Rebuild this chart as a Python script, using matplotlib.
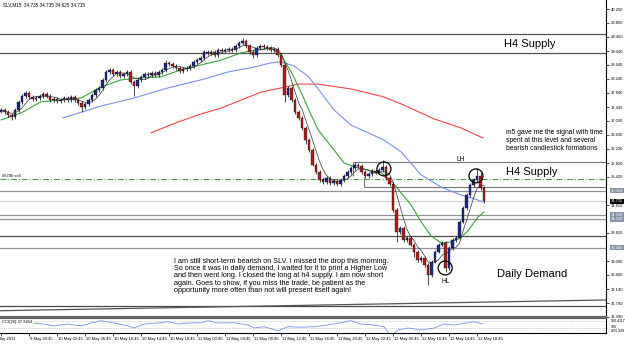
import numpy as np
import pandas as pd
import matplotlib
matplotlib.use("Agg")
import matplotlib.pyplot as plt
from matplotlib.patches import Ellipse
from matplotlib.transforms import blended_transform_factory

plt.rcParams["font.family"] = ["Liberation Sans", "DejaVu Sans"]

# SLV M15 closes, one per bar
closes = [
    37.35, 37.29, 37.20, 37.15, 37.35, 37.58, 37.75, 37.83, 37.72, 37.66,
    37.69, 37.75, 37.81, 37.75, 37.63, 37.66, 37.61, 37.63, 37.69, 37.63,
    37.72, 37.63, 37.55, 37.43, 37.52, 37.63, 37.78, 37.92, 37.98, 38.21,
    38.44, 38.50, 38.38, 38.44, 38.32, 38.38, 38.44, 38.15, 38.04, 38.21,
    38.30, 38.38, 38.35, 38.41, 38.35, 38.44, 38.50, 38.70, 38.67, 38.61,
    38.55, 38.47, 38.53, 38.55, 38.61, 38.73, 38.78, 38.84, 39.01, 38.99,
    39.01, 38.93, 39.07, 39.04, 39.07, 39.10, 39.07, 39.19, 39.27, 39.33,
    39.19, 39.01, 38.93, 39.13, 39.19, 39.16, 39.13, 39.07, 39.10, 38.93,
    38.64, 37.78, 37.98, 37.63, 37.29, 37.12, 36.83, 36.48, 36.20, 35.77,
    35.56, 35.33, 35.28, 35.39, 35.25, 35.31, 35.22, 35.33, 35.45, 35.56,
    35.68, 35.77, 35.74, 35.56, 35.45, 35.51, 35.59, 35.54, 35.62, 35.71,
    35.39, 35.22, 34.47, 33.84, 33.95, 33.61, 33.67, 33.47, 33.27, 33.03,
    33.09, 32.89, 32.60, 32.98, 33.27, 33.47, 33.52, 32.79, 33.38, 33.61,
    33.67, 34.13, 34.53, 34.90, 35.19, 35.33, 35.45, 35.10, 34.73,
]
first_open = 37.30
up_wick = [
    .05, .05, .05, .05, .05, .05, .05, .05, .05, .05,
    .05, .05, .05, .05, .05, .05, .05, .05, .05, .05,
    .05, .05, .05, .05, .05, .05, .05, .05, .05, .05,
    .05, .05, .05, .05, .05, .05, .05, .05, .05, .05,
    .05, .05, .05, .05, .05, .05, .05, .08, .05, .05,
    .05, .05, .05, .05, .05, .05, .05, .05, .05, .05,
    .05, .05, .05, .05, .05, .05, .05, .05, .05, .09,
    .05, .05, .05, .05, .05, .05, .05, .05, .05, .05,
    .05, .05, .05, .05, .05, .05, .05, .05, .05, .05,
    .05, .05, .08, .05, .05, .05, .05, .05, .05, .05,
    .05, .08, .05, .05, .05, .05, .05, .05, .05, .20,
    .05, .05, .05, .05, .05, .05, .05, .05, .05, .05,
    .05, .05, .05, .05, .05, .05, .05, .05, .05, .05,
    .05, .05, .05, .05, .05, .05, .23, .12, .05,
]
dn_wick = [
    .05, .05, .05, .10, .05, .05, .05, .05, .05, .05,
    .05, .05, .05, .05, .05, .05, .05, .05, .05, .05,
    .05, .05, .05, .14, .05, .05, .05, .05, .05, .05,
    .05, .05, .05, .05, .05, .05, .05, .05, .30, .05,
    .05, .05, .05, .05, .05, .05, .05, .05, .05, .05,
    .05, .05, .05, .05, .05, .05, .05, .05, .05, .05,
    .05, .05, .05, .05, .05, .05, .05, .05, .05, .05,
    .05, .05, .08, .05, .05, .05, .05, .05, .05, .05,
    .05, .20, .05, .05, .05, .05, .05, .12, .05, .05,
    .05, .05, .05, .05, .05, .05, .05, .05, .05, .05,
    .05, .05, .05, .05, .05, .05, .05, .05, .05, .05,
    .05, .05, .05, .30, .05, .05, .05, .05, .15, .05,
    .05, .05, .28, .05, .05, .05, .05, .10, .05, .05,
    .05, .05, .05, .05, .05, .05, .05, .05, .05,
]

# moving averages (bar index, price)
green_x = [0, 5.7, 11.4, 17.1, 22.9, 28.6, 34.3, 40, 45.7, 51.4, 57.1, 62.9, 68.6, 72.9, 77.1,
           80, 82.9, 85.7, 88.6, 90.6, 95.1, 98, 102, 108.6, 112, 114.3, 117.1, 120, 122.9,
           125.7, 128.6, 131.4, 133.4, 136.3, 138]
green_y = [37.06, 37.26, 37.58, 37.63, 37.69, 38.01, 38.21, 38.27, 38.30, 38.50, 38.64, 38.78,
           38.99, 39.07, 39.13, 38.93, 38.44, 37.86, 37.20, 36.77, 36.20, 35.82, 35.68, 35.54,
           35.25, 34.96, 34.62, 34.13, 33.72, 33.52, 33.55, 33.67, 33.87, 34.27, 34.41]
blue_x = [17.7, 28.6, 38, 47.7, 57.1, 64.9, 72.3, 77.1, 80, 83.7, 87.7, 90.6, 95.1, 100, 104.9,
          109.4, 114.3, 120, 125.7, 131.4, 134.3, 137.7]
blue_y = [37.12, 37.46, 37.69, 37.98, 38.21, 38.44, 38.58, 38.70, 38.73, 38.61, 38.32, 37.95,
          37.35, 36.91, 36.69, 36.48, 36.14, 35.48, 35.13, 34.90, 34.82, 34.70]
red_x = [42.9, 50.6, 57.1, 62.9, 68.6, 74.3, 80, 84.9, 90.6, 100, 109.4, 114.3, 123.7, 131.4, 137.7]
red_y = [36.69, 37.00, 37.23, 37.40, 37.63, 37.86, 37.98, 38.09, 38.09, 37.95, 37.72, 37.52,
         37.09, 36.83, 36.54]

# CCI(20) sub-window
cci_x = [9.4, 12.3, 15.1, 19.1, 22.9, 25.7, 28.6, 32.3, 36.3, 38, 40.9, 44.9, 47.7, 50.6, 53.4,
         57.1, 59.1, 62, 66.6, 70.6, 72.3, 75.1, 79.1, 82, 85.7, 89.4, 93.4, 97.1, 100, 102.9,
         106.6, 109.4, 111.4, 113.4, 116.3, 120, 123.7, 126.6, 129.4, 133.4, 135.1, 137.7]
cci_v = [34, 14, -43, 14, -43, 43, 109, 43, -43, -100, 14, 43, 80, 14, 43, 51, 109, 43, 51,
         -14, -100, -63, -177, -63, -77, -63, -14, 51, 109, 14, -14, -63, -330, -157, -100,
         -157, -100, 14, -14, 51, 80, 14]

# drawn levels
h4_top = [39.53, 38.99]
grey_levels = [35.02, 34.33, 34.21, 33.38]
dark_levels = [33.72, 31.71]
bid = 34.715
sell_level = 35.36
box_top, box_bottom = 35.85, 35.13
trend_x = [-0.3, 172.85]
trend_y = [31.57, 31.88]

price_ticks = [40.25, 39.85, 39.45, 39.04, 38.64, 38.24, 37.84, 37.43, 37.03, 36.63, 36.23,
               35.82, 35.42, 34.61, 33.81, 33.00, 32.60, 32.19, 31.79, 31.39]
hl_labels = [(35.02, "35.024"), (34.33, "34.330"), (34.21, "34.210"), (33.38, "33.380")]
date_labels = ["9 May 2011", "9 May 20:45", "10 May 02:45", "10 May 06:45", "10 May 10:45",
               "10 May 14:45", "10 May 18:45", "11 May 00:45", "11 May 04:45", "11 May 08:45",
               "11 May 12:45", "11 May 16:45", "11 May 20:45", "12 May 02:45", "12 May 06:45",
               "12 May 10:45", "12 May 14:45", "12 May 18:45"]

n = len(closes)
idx = np.arange(n)
opens = [first_open] + closes[:-1]
highs = [max(o, c) + u for o, c, u in zip(opens, closes, up_wick)]
lows = [min(o, c) - d for o, c, d in zip(opens, closes, dn_wick)]

fig = plt.figure(figsize=(6.25, 3.45), dpi=100)
ax = fig.add_axes([0, 28 / 345, 606 / 625, 317 / 345])
ax2 = fig.add_axes([0, 12 / 345, 606 / 625, 15 / 345])
xlim = (-0.3, -0.3 + 606 / 3.5)
ax.set_xlim(*xlim)
ax.set_ylim(31.395, 40.509)
ax2.set_xlim(*xlim)
ax2.set_ylim(-243, 186)

# levels
for p in h4_top:
    ax.axhline(p, color="#555555", lw=0.9, zorder=1)
for p in grey_levels:
    ax.axhline(p, color="#8d939c", lw=0.9, zorder=1)
for p in dark_levels:
    ax.axhline(p, color="#4a4a4a", lw=0.9, zorder=1)
ax.axhline(bid, color="#cfcfcf", lw=0.8, zorder=1)
ax.axhline(sell_level, color="#3a9a3a", lw=0.7, ls=(0, (6, 2, 1, 2)), zorder=1)
ax.hlines(box_top, 100.6, xlim[1], color="#777777", lw=0.8)
ax.hlines(box_bottom, 103.7, xlim[1], color="#777777", lw=0.8)
ax.vlines(100.6, 35.45, box_top, color="#777777", lw=0.8)
ax.vlines(103.7, box_bottom, 35.42, color="#777777", lw=0.8)
ax.plot(trend_x, trend_y, color="#555555", lw=0.9)

# moving averages
ax.plot(red_x, red_y, color="#f04646", lw=0.8, zorder=2)
ax.plot(blue_x, blue_y, color="#7593ee", lw=0.8, zorder=2)
ax.plot(green_x, green_y, color="#3aa43a", lw=0.8, zorder=2)
fast = pd.Series(closes).rolling(5, min_periods=1).mean()
ax.plot(idx, fast, color="#333333", lw=0.5, zorder=4)

# candles
ax.vlines(idx, lows, highs, color="black", lw=0.5, zorder=3)
body_lo = [min(o, c) for o, c in zip(opens, closes)]
body_h = [max(abs(c - o), 0.012) for o, c in zip(opens, closes)]
cols = ["#1b2a8c" if c >= o else "#b01e1e" for o, c in zip(opens, closes)]
ax.bar(idx, body_h, bottom=body_lo, width=0.62, color=cols, edgecolor="black",
       linewidth=0.25, zorder=3)

# circles around the swing points
for cx, cy in [(109.4, 35.65), (135.7, 35.45), (126.9, 32.80)]:
    ax.add_patch(Ellipse((cx, cy), 4.0, 0.40, fill=False, ec="black", lw=0.9, zorder=5))

# annotations
ax.text(143.7, 39.24, "H4 Supply", fontsize=8, va="center")
ax.text(144.3, 35.56, "H4 Supply", fontsize=8, va="center")
ax.text(141.7, 32.63, "Daily Demand", fontsize=8, va="center")
ax.text(144.3, 36.80, "m5 gave me the signal with time\nspent at this level and several\n"
        "bearish candlestick formations", fontsize=4.9, va="top", linespacing=1.2)
ax.text(130.0, 35.91, "LH", fontsize=4.8, va="center")
ax.text(125.7, 32.40, "HL", fontsize=4.8, va="center")
ax.text(49.4, 33.09, "I am still short-term bearish on SLV. I missed the drop this morning.\n"
        "So once it was in daily demand, I waited for it to print a Higher Low\n"
        "and then went long. I closed the long at h4 supply. I am now short\n"
        "again. Goes to show, if you miss the trade, be patient as the\n"
        "opportunity more often than not will present itself again!",
        fontsize=5.2, va="top", linespacing=1.05)
ax.text(0.3, 35.39, "#6780 sell", fontsize=3.0, va="bottom")
fig.text(3 / 625, 1 - 5 / 345, "SLV,M15  34.735 34.735 34.625 34.715", fontsize=3.3, va="center")

# price scale
ax.yaxis.tick_right()
ax.set_yticks(price_ticks)
ax.set_yticklabels([f"{t:.3f}" for t in price_ticks])
ax.tick_params(axis="y", labelsize=3.0, length=2, width=0.5, pad=1.5)
ax.set_xticks([])
trans = blended_transform_factory(ax.transAxes, ax.transData)
for p, lab in hl_labels:
    ax.text(1.008, p, lab, transform=trans, fontsize=3.0, va="center", color="white",
            bbox=dict(facecolor="#8693a6", edgecolor="none", pad=0.4), clip_on=False)
ax.text(1.008, bid, "34.715", transform=trans, fontsize=3.0, va="center", color="white",
        bbox=dict(facecolor="black", edgecolor="none", pad=0.4), clip_on=False)

for s in ["top", "left"]:
    ax.spines[s].set_visible(False)
ax.spines["right"].set_linewidth(0.8)
ax.spines["bottom"].set_linewidth(1.6)
ax.spines["bottom"].set_color("#666666")

# CCI window
ax2.axhline(100, color="#aaaaaa", lw=0.5, ls=":")
ax2.axhline(-100, color="#aaaaaa", lw=0.5, ls=":")
ax2.plot(cci_x, cci_v, color="#7593ee", lw=0.6)
ax2.text(0.3, 60, "CCI(20) 37.9454", fontsize=3.0, va="center",
         bbox=dict(facecolor="white", edgecolor="none", pad=0.2))
ax2.yaxis.tick_right()
ax2.set_yticks([])
trans2 = blended_transform_factory(ax2.transAxes, ax2.transData)
for v, lab in [(95, "160.4117"), (-60, "100"), (-200, "-455.929")]:
    ax2.text(1.008, v, lab, transform=trans2, fontsize=2.6, va="center", clip_on=False)
for s in ["left"]:
    ax2.spines[s].set_visible(False)
ax2.spines["top"].set_linewidth(1.6)
ax2.spines["top"].set_color("#666666")
ax2.spines["right"].set_linewidth(0.8)
ax2.spines["bottom"].set_linewidth(0.8)
ax2.set_xticks([8 * k for k in range(len(date_labels))])
ax2.set_xticklabels([])
ax2.tick_params(axis="x", length=2, width=0.5)
trans3 = blended_transform_factory(ax2.transData, ax2.transAxes)
for k, lab in enumerate(date_labels):
    x = 8 * k if k else -2.4
    ax2.text(x + 0.3, -0.42, lab, transform=trans3, fontsize=3.0, va="center", ha="left",
             clip_on=False)

fig.savefig("out.png", dpi=100)
